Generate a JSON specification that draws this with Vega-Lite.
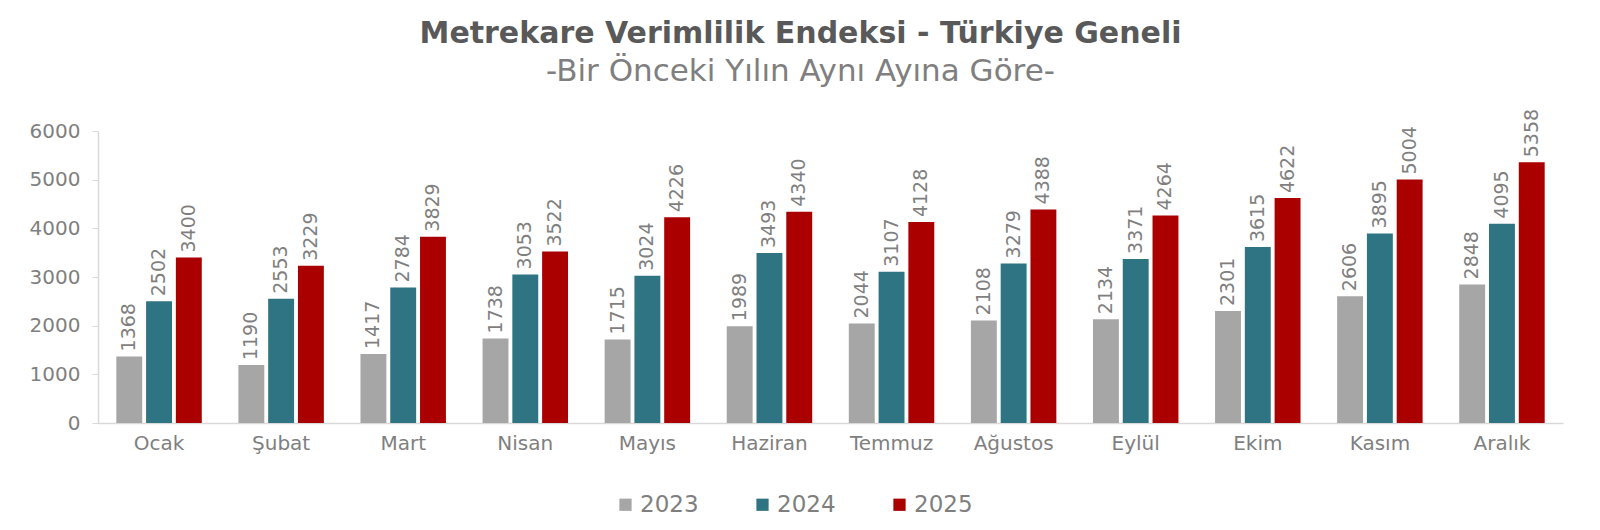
{
  "$schema": "https://vega.github.io/schema/vega-lite/v6.json",
  "autosize": {"type": "none"},
  "width": 1465,
  "height": 292,
  "padding": {"left": 98, "top": 131, "right": 37, "bottom": 107},
  "background": "white",
  "config": {"view": {"stroke": null}, "font": "DejaVu Sans"},
  "title": {
    "text": "Metrekare Verimlilik Endeksi - Türkiye Geneli",
    "subtitle": "-Bir Önceki Yılın Aynı Ayına Göre-",
    "anchor": "middle",
    "dx": -30,
    "offset": 22,
    "font": "DejaVu Sans",
    "fontSize": 30,
    "fontWeight": "bold",
    "color": "#595959",
    "subtitleFont": "DejaVu Sans",
    "subtitleFontSize": 31,
    "subtitleColor": "#7F7F7F",
    "subtitlePadding": 8
  },
  "data": {
    "values": [
      {"ay": "Ocak", "yil": "2023", "deger": 1368},
      {"ay": "Ocak", "yil": "2024", "deger": 2502},
      {"ay": "Ocak", "yil": "2025", "deger": 3400},
      {"ay": "Şubat", "yil": "2023", "deger": 1190},
      {"ay": "Şubat", "yil": "2024", "deger": 2553},
      {"ay": "Şubat", "yil": "2025", "deger": 3229},
      {"ay": "Mart", "yil": "2023", "deger": 1417},
      {"ay": "Mart", "yil": "2024", "deger": 2784},
      {"ay": "Mart", "yil": "2025", "deger": 3829},
      {"ay": "Nisan", "yil": "2023", "deger": 1738},
      {"ay": "Nisan", "yil": "2024", "deger": 3053},
      {"ay": "Nisan", "yil": "2025", "deger": 3522},
      {"ay": "Mayıs", "yil": "2023", "deger": 1715},
      {"ay": "Mayıs", "yil": "2024", "deger": 3024},
      {"ay": "Mayıs", "yil": "2025", "deger": 4226},
      {"ay": "Haziran", "yil": "2023", "deger": 1989},
      {"ay": "Haziran", "yil": "2024", "deger": 3493},
      {"ay": "Haziran", "yil": "2025", "deger": 4340},
      {"ay": "Temmuz", "yil": "2023", "deger": 2044},
      {"ay": "Temmuz", "yil": "2024", "deger": 3107},
      {"ay": "Temmuz", "yil": "2025", "deger": 4128},
      {"ay": "Ağustos", "yil": "2023", "deger": 2108},
      {"ay": "Ağustos", "yil": "2024", "deger": 3279},
      {"ay": "Ağustos", "yil": "2025", "deger": 4388},
      {"ay": "Eylül", "yil": "2023", "deger": 2134},
      {"ay": "Eylül", "yil": "2024", "deger": 3371},
      {"ay": "Eylül", "yil": "2025", "deger": 4264},
      {"ay": "Ekim", "yil": "2023", "deger": 2301},
      {"ay": "Ekim", "yil": "2024", "deger": 3615},
      {"ay": "Ekim", "yil": "2025", "deger": 4622},
      {"ay": "Kasım", "yil": "2023", "deger": 2606},
      {"ay": "Kasım", "yil": "2024", "deger": 3895},
      {"ay": "Kasım", "yil": "2025", "deger": 5004},
      {"ay": "Aralık", "yil": "2023", "deger": 2848},
      {"ay": "Aralık", "yil": "2024", "deger": 4095},
      {"ay": "Aralık", "yil": "2025", "deger": 5358}
    ]
  },
  "encoding": {
    "x": {
      "field": "ay",
      "type": "nominal",
      "sort": null,
      "scale": {"paddingInner": 0.3, "paddingOuter": 0.15},
      "axis": {
        "title": null,
        "labelAngle": 0,
        "labelFontSize": 20,
        "labelColor": "#7F7F7F",
        "labelPadding": 10,
        "ticks": false,
        "domainColor": "#D9D9D9",
        "domainWidth": 1.5,
        "grid": false
      }
    },
    "xOffset": {
      "field": "yil",
      "type": "nominal",
      "scale": {"paddingInner": 0.13, "paddingOuter": 0}
    },
    "y": {
      "field": "deger",
      "type": "quantitative",
      "scale": {"domain": [0, 6000], "nice": false},
      "axis": {
        "title": null,
        "values": [0, 1000, 2000, 3000, 4000, 5000, 6000],
        "format": "d",
        "labelFontSize": 20,
        "labelColor": "#7F7F7F",
        "labelPadding": 12,
        "tickSize": 6,
        "tickColor": "#D9D9D9",
        "domainColor": "#D9D9D9",
        "domainWidth": 1.5,
        "grid": false
      }
    }
  },
  "layer": [
    {
      "mark": {"type": "bar"},
      "encoding": {
        "color": {
          "field": "yil",
          "type": "nominal",
          "scale": {"domain": ["2023", "2024", "2025"], "range": ["#A6A6A6", "#2E7482", "#AA0000"]},
          "legend": {
            "title": null,
            "orient": "none",
            "direction": "horizontal",
            "legendX": 516,
            "legendY": 362,
            "symbolType": "square",
            "symbolSize": 150,
            "symbolStrokeWidth": 0,
            "labelFontSize": 23,
            "labelColor": "#7F7F7F",
            "labelOffset": 3,
            "columnPadding": 52
          }
        }
      }
    },
    {
      "mark": {"type": "text", "angle": 270, "align": "left", "baseline": "middle", "dx": 5, "fontSize": 19, "color": "#7F7F7F"},
      "encoding": {
        "text": {"field": "deger", "type": "quantitative", "format": "d"}
      }
    }
  ]
}
